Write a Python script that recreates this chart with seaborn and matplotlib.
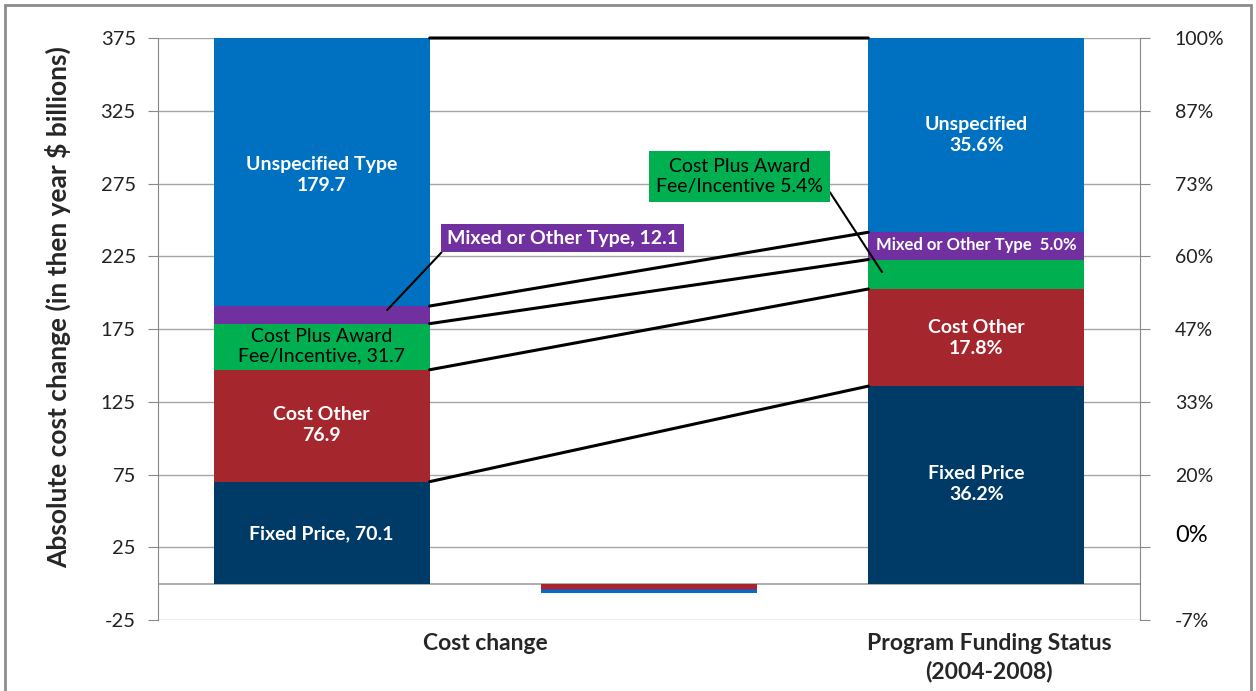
import numpy as np
import matplotlib
matplotlib.use("Agg")
import matplotlib.pyplot as plt
import matplotlib.transforms as mtransforms
from matplotlib.patches import ConnectionPatch, Rectangle
import seaborn as sns

# categories (middle one carries no label in the original)
categories = ["Cost change", "Delta", "Program Funding Status"]
segments = ["Fixed Price", "Cost Other", "Cost Plus Award Fee/Incentive",
            "Mixed or Other Type", "Unspecified"]
colors = ["#003A66", "#A6262E", "#00B050", "#7030A0", "#0070C0"]

# absolute cost change, $ billions (left axis); the blue bar reaches the top of the axis
cost_change = [70.1, 76.9, 31.7, 12.1, 184.2]
middle_change = [0.0, -3.5, 0.0, -0.9, -2.3]
# program funding share, % (right axis)
funding_pct = [36.2, 17.8, 5.4, 5.0, 35.6]

left_ticks = [-25, 25, 75, 125, 175, 225, 275, 325, 375]
right_labels = ["-7%", "", "20%", "33%", "47%", "60%", "73%", "87%", "100%"]

# set style
sns.set_style("white")
plt.rcParams["font.family"] = ["Lato", "DejaVu Sans"]
plt.rcParams["axes.unicode_minus"] = False

fig = plt.figure(figsize=(12.56, 6.91), dpi=100)
ax = fig.add_axes([0.1258, 0.1027, 0.7818, 0.8423])
ax2 = ax.twinx()

# stack values, positives up and negatives down
left_vals = np.array([cost_change, middle_change, [0.0] * 5]).T
pos = np.clip(left_vals, 0, None)
neg = np.clip(left_vals, None, 0)
pos_bot = np.vstack([np.zeros(3), np.cumsum(pos, axis=0)[:-1]])
neg_bot = np.vstack([np.zeros(3), np.cumsum(neg, axis=0)[:-1]])
left_bottoms = np.where(left_vals >= 0, pos_bot, neg_bot)

right_vals = np.array([[0.0] * 5, [0.0] * 5, funding_pct]).T
right_bottoms = np.vstack([np.zeros(3), np.cumsum(right_vals, axis=0)[:-1]])

for i in range(len(segments)):
    sns.barplot(x=categories, y=left_vals[i], bottom=left_bottoms[i], order=categories,
                color=colors[i], saturation=1, width=0.66, errorbar=None,
                linewidth=0, ax=ax)
    sns.barplot(x=categories, y=right_vals[i], bottom=right_bottoms[i], order=categories,
                color=colors[i], saturation=1, width=0.66, errorbar=None,
                linewidth=0, ax=ax2)

ax.set_ylim(-25, 375)
ax2.set_ylim(-25 / 3.75, 100)
ax.set_xlim(-0.5, 2.5)

# grid and axes
ax.set_axisbelow(True)
ax.set_yticks(left_ticks)
ax.yaxis.grid(True, color="#A6A6A6", lw=1)
ax.axhline(0, color="#A0A0A0", lw=1.2, zorder=0)
ax2.set_yticks([t / 3.75 for t in left_ticks])
ax2.set_yticklabels(right_labels)
ax2.grid(False)
for s in ["top", "bottom", "right"]:
    ax.spines[s].set_visible(False)
for s in ["top", "bottom", "left"]:
    ax2.spines[s].set_visible(False)
ax.spines["left"].set_color("#888888")
ax2.spines["right"].set_color("#888888")
ax.tick_params(axis="y", length=7, color="#888888", labelsize=14.5, labelcolor="#222222", pad=9)
ax2.tick_params(axis="y", length=7, color="#888888", labelsize=14, labelcolor="#222222", pad=18)
ax2.set_ylabel("")

ax.set_xticks([0.5, 2.04])
ax.set_xticklabels(["Cost change", "Program Funding Status\n(2004-2008)"],
                   fontsize=16.5, fontweight="bold", linespacing=1.4)
ax.tick_params(axis="x", length=0, pad=9)
ax.set_xlabel("")
ax.set_ylabel("Absolute cost change (in then year $ billions)", fontsize=19, fontweight="bold")
ax.yaxis.set_label_coords(-0.088, 0.537)

# "0%" sits a little off the right axis grid
trans = mtransforms.blended_transform_factory(ax.transAxes, ax2.transData)
ax2.text(1.053, 8.9, "0%", transform=trans, ha="center", va="center", fontsize=17, color="black")

# series lines between the two stacked bars
left_tops = np.cumsum(cost_change)
right_tops = np.cumsum(funding_pct)
for lt, rt in zip(left_tops, right_tops):
    con = ConnectionPatch(xyA=(0.33, lt), coordsA=ax.transData,
                          xyB=(1.67, rt), coordsB=ax2.transData,
                          color="black", lw=2.2)
    con.set_clip_on(False)
    ax2.add_artist(con)

# labels on the cost change bar
ax.text(0, 280.8, "Unspecified Type\n179.7", ha="center", va="center", color="white",
        fontsize=14, fontweight="bold", linespacing=1.25)
ax.text(0, 163.3, "Cost Plus Award\nFee/Incentive, 31.7", ha="center", va="center",
        color="black", fontsize=14, linespacing=1.2)
ax.text(0, 109, "Cost Other\n76.9", ha="center", va="center", color="white",
        fontsize=14, fontweight="bold", linespacing=1.25)
ax.text(0, 34.6, "Fixed Price, 70.1", ha="center", va="center", color="white",
        fontsize=14, fontweight="bold")
ax.annotate("Mixed or Other Type, 12.1", xy=(0.2, 188), xytext=(0.383, 237.5),
            ha="left", va="center", color="white", fontsize=14, fontweight="bold",
            bbox=dict(boxstyle="square,pad=0.3", fc=colors[3], ec="none"),
            arrowprops=dict(arrowstyle="-", color="black", lw=1.5, relpos=(0, 0),
                            shrinkA=0, shrinkB=0),
            zorder=5)

# labels on the funding bar
ax2.text(2, 82.2, "Unspecified\n35.6%", ha="center", va="center", color="white",
         fontsize=14, fontweight="bold", linespacing=1.25)
ax2.text(2, 62.1, "Mixed or Other Type  5.0%", ha="center", va="center", color="white",
         fontsize=12, fontweight="bold")
ax2.text(2, 45.0, "Cost Other\n17.8%", ha="center", va="center", color="white",
         fontsize=14, fontweight="bold", linespacing=1.25)
ax2.text(2, 18.3, "Fixed Price\n36.2%", ha="center", va="center", color="white",
         fontsize=14, fontweight="bold", linespacing=1.25)
ax2.annotate("Cost Plus Award\nFee/Incentive 5.4%", xy=(1.712, 57.1), xytext=(1.277, 74.6),
             ha="center", va="center", color="black", fontsize=14, linespacing=1.25,
             bbox=dict(boxstyle="square,pad=0.35", fc=colors[2], ec="none"),
             arrowprops=dict(arrowstyle="-", color="black", lw=1.5, relpos=(1, 0.36),
                             shrinkA=0, shrinkB=0),
             zorder=5)

# outer frame
fig.add_artist(Rectangle((5 / 1256, -0.02), 1246 / 1256, 1.02 - 5 / 691,
                         transform=fig.transFigure, fill=False, ec="#8C8C8C", lw=2))

fig.savefig("out.png", dpi=100)
